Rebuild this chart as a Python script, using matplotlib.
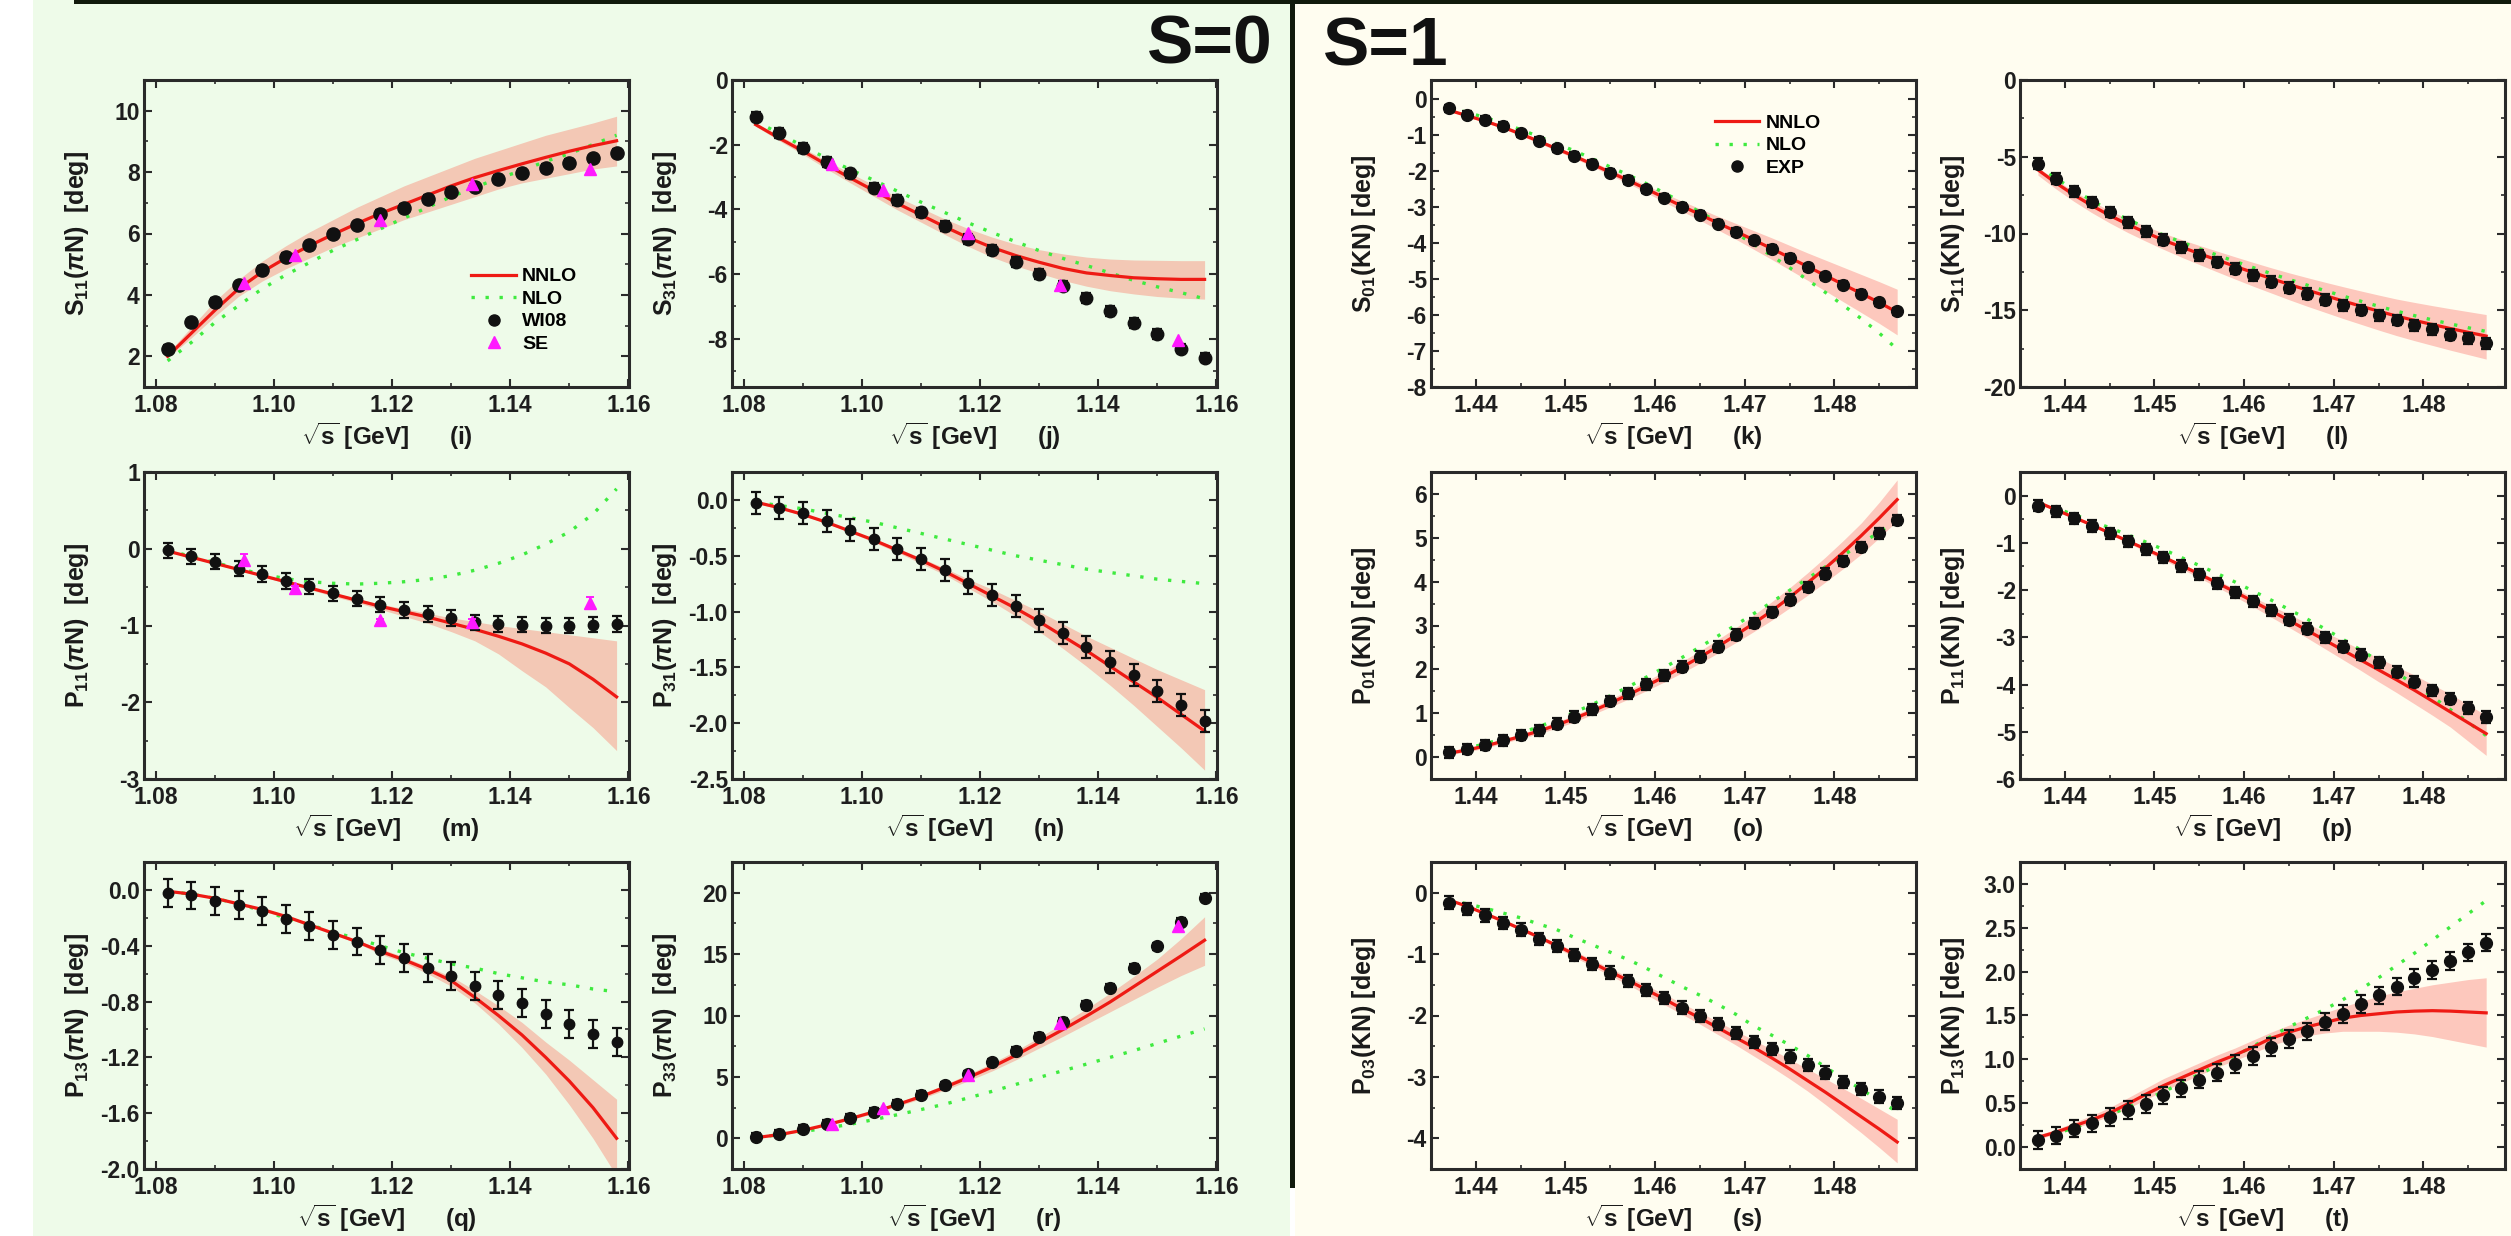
import matplotlib.pyplot as plt
from matplotlib.patches import Rectangle
from matplotlib.lines import Line2D
from matplotlib.ticker import MultipleLocator, FormatStrFormatter

plt.rcParams['font.family'] = ['Liberation Sans', 'DejaVu Sans']
plt.rcParams['font.weight'] = 'bold'
plt.rcParams['axes.labelweight'] = 'bold'
plt.rcParams['mathtext.fontset'] = 'custom'
plt.rcParams['mathtext.rm'] = 'Liberation Sans:bold'
plt.rcParams['mathtext.it'] = 'Liberation Sans:italic:bold'
plt.rcParams['mathtext.bf'] = 'Liberation Sans:bold'
plt.rcParams['mathtext.sf'] = 'Liberation Sans:bold'

# ---------------- data ----------------
x_pi = [1.082, 1.086, 1.090, 1.094, 1.098, 1.102, 1.106, 1.110, 1.114, 1.118,
        1.122, 1.126, 1.130, 1.134, 1.138, 1.142, 1.146, 1.150, 1.154, 1.158]
x_kn = [1.437, 1.439, 1.441, 1.443, 1.445, 1.447, 1.449, 1.451, 1.453, 1.455,
        1.457, 1.459, 1.461, 1.463, 1.465, 1.467, 1.469, 1.471, 1.473, 1.475,
        1.477, 1.479, 1.481, 1.483, 1.485, 1.487]
x_se = [1.095, 1.1035, 1.118, 1.1335, 1.1535]

# (i) S11 piN
s11pi_exp = [2.24, 3.11, 3.77, 4.31, 4.81, 5.24, 5.61, 5.97, 6.27, 6.63, 6.84, 7.12, 7.36, 7.53, 7.77, 7.97, 8.13, 8.31, 8.45, 8.62]
s11pi_se = [4.40, 5.29, 6.43, 7.61, 8.10]
s11pi_nnlo = [2.0, 2.75, 3.5, 4.2, 4.75, 5.2, 5.6, 5.97, 6.32, 6.65, 6.95, 7.25, 7.55, 7.82, 8.05, 8.27, 8.48, 8.68, 8.86, 9.02]
s11pi_hi = [2.1, 2.95, 3.8, 4.5, 5.1, 5.6, 6.05, 6.45, 6.85, 7.2, 7.55, 7.85, 8.15, 8.45, 8.7, 8.95, 9.2, 9.4, 9.6, 9.82]
s11pi_lo = [1.95, 2.6, 3.3, 3.95, 4.45, 4.85, 5.2, 5.55, 5.85, 6.15, 6.45, 6.7, 6.95, 7.2, 7.45, 7.65, 7.8, 7.95, 8.1, 8.2]
s11pi_nlo = [1.85, 2.45, 3.1, 3.65, 4.2, 4.65, 5.05, 5.45, 5.8, 6.15, 6.5, 6.85, 7.2, 7.5, 7.8, 8.05, 8.35, 8.6, 8.9, 9.2]

# (j) S31 piN
s31pi_exp = [-1.13, -1.64, -2.10, -2.54, -2.89, -3.33, -3.72, -4.10, -4.51, -4.92, -5.25, -5.64, -6.00, -6.36, -6.75, -7.15, -7.51, -7.85, -8.31, -8.59]
s31pi_se = [-2.59, -3.41, -4.75, -6.34, -8.05]
s31pi_nnlo = [-1.38, -1.8, -2.2, -2.62, -3.03, -3.42, -3.82, -4.18, -4.54, -4.88, -5.18, -5.43, -5.64, -5.83, -5.97, -6.05, -6.12, -6.15, -6.17, -6.17]
s31pi_hi = [-1.33, -1.72, -2.1, -2.5, -2.88, -3.25, -3.62, -3.96, -4.3, -4.6, -4.86, -5.08, -5.25, -5.38, -5.48, -5.54, -5.57, -5.58, -5.59, -5.59]
s31pi_lo = [-1.43, -1.88, -2.3, -2.75, -3.18, -3.6, -4.02, -4.4, -4.78, -5.15, -5.48, -5.75, -5.98, -6.2, -6.38, -6.52, -6.62, -6.7, -6.75, -6.78]
s31pi_nlo = [-1.28, -1.65, -2.05, -2.42, -2.77, -3.1, -3.44, -3.78, -4.1, -4.42, -4.72, -5.0, -5.28, -5.52, -5.74, -5.97, -6.2, -6.4, -6.58, -6.77]

# (k) S01 KN
s01kn_exp = [-0.25, -0.42, -0.57, -0.74, -0.94, -1.15, -1.36, -1.57, -1.79, -2.04, -2.24, -2.5, -2.73, -2.98, -3.21, -3.46, -3.69, -3.92, -4.16, -4.41, -4.67, -4.92, -5.15, -5.40, -5.64, -5.89]
s01kn_nnlo = [-0.3, -0.45, -0.6, -0.77, -0.96, -1.16, -1.37, -1.58, -1.8, -2.03, -2.25, -2.49, -2.73, -2.97, -3.2, -3.44, -3.67, -3.91, -4.15, -4.4, -4.65, -4.9, -5.15, -5.4, -5.65, -5.92]
s01kn_hi = [-0.27, -0.42, -0.56, -0.73, -0.91, -1.11, -1.31, -1.52, -1.73, -1.95, -2.16, -2.39, -2.61, -2.83, -3.04, -3.25, -3.45, -3.65, -3.85, -4.06, -4.27, -4.47, -4.67, -4.87, -5.07, -5.28]
s01kn_lo = [-0.33, -0.48, -0.64, -0.81, -1.01, -1.21, -1.43, -1.64, -1.87, -2.11, -2.34, -2.59, -2.85, -3.11, -3.36, -3.63, -3.89, -4.17, -4.45, -4.74, -5.03, -5.33, -5.63, -5.93, -6.23, -6.55]
s01kn_nlo = [-0.22, -0.36, -0.5, -0.66, -0.84, -1.03, -1.23, -1.43, -1.65, -1.88, -2.1, -2.34, -2.6, -2.86, -3.13, -3.42, -3.72, -4.03, -4.35, -4.68, -5.02, -5.37, -5.73, -6.1, -6.5, -6.95]

# (l) S11 KN
s11kn_exp = [-5.46, -6.44, -7.26, -7.95, -8.6, -9.27, -9.86, -10.4, -10.9, -11.42, -11.85, -12.29, -12.72, -13.15, -13.54, -13.91, -14.3, -14.67, -14.99, -15.32, -15.64, -15.97, -16.25, -16.58, -16.84, -17.16]
s11kn_nnlo = [-5.85, -6.7, -7.48, -8.18, -8.82, -9.4, -9.93, -10.43, -10.88, -11.31, -11.73, -12.14, -12.54, -12.93, -13.31, -13.68, -14.04, -14.39, -14.73, -15.06, -15.38, -15.66, -15.93, -16.19, -16.44, -16.68]
s11kn_hi = [-5.7, -6.51, -7.25, -7.9, -8.5, -9.04, -9.52, -9.98, -10.39, -10.78, -11.15, -11.52, -11.88, -12.23, -12.56, -12.87, -13.17, -13.46, -13.74, -14.01, -14.27, -14.49, -14.7, -14.9, -15.09, -15.28]
s11kn_lo = [-6.2, -7.09, -7.9, -8.64, -9.31, -9.93, -10.49, -11.03, -11.54, -12.02, -12.5, -12.97, -13.43, -13.87, -14.31, -14.73, -15.13, -15.53, -15.91, -16.29, -16.65, -16.98, -17.29, -17.6, -17.89, -18.18]
s11kn_nlo = [-5.6, -6.4, -7.15, -7.85, -8.5, -9.08, -9.6, -10.1, -10.56, -10.99, -11.41, -11.82, -12.22, -12.61, -12.99, -13.36, -13.72, -14.07, -14.41, -14.74, -15.06, -15.35, -15.63, -15.89, -16.14, -16.38]

# (m) P11 piN
p11pi_exp = [-0.02, -0.10, -0.17, -0.26, -0.33, -0.42, -0.49, -0.58, -0.65, -0.73, -0.80, -0.85, -0.90, -0.96, -0.98, -0.99, -1.00, -1.00, -0.99, -0.98]
p11pi_se = [-0.15, -0.51, -0.93, -0.96, -0.71]
p11pi_se_err = [0.08, 0.02, 0.02, 0.05, 0.08]
p11pi_nnlo = [-0.03, -0.11, -0.19, -0.27, -0.35, -0.43, -0.51, -0.59, -0.67, -0.75, -0.82, -0.89, -0.97, -1.05, -1.14, -1.24, -1.36, -1.5, -1.7, -1.93]
p11pi_hi = [-0.02, -0.1, -0.18, -0.26, -0.34, -0.42, -0.5, -0.57, -0.65, -0.72, -0.78, -0.84, -0.9, -0.95, -1.0, -1.04, -1.08, -1.12, -1.16, -1.2]
p11pi_lo = [-0.04, -0.12, -0.2, -0.28, -0.36, -0.45, -0.53, -0.62, -0.7, -0.79, -0.88, -0.97, -1.08, -1.2, -1.37, -1.59, -1.8, -2.07, -2.33, -2.63]
p11pi_nlo = [-0.02, -0.1, -0.18, -0.26, -0.33, -0.39, -0.43, -0.45, -0.46, -0.45, -0.43, -0.4, -0.35, -0.28, -0.19, -0.08, 0.06, 0.22, 0.45, 0.78]

# (n) P31 piN
p31pi_exp = [-0.03, -0.07, -0.12, -0.19, -0.27, -0.35, -0.44, -0.53, -0.63, -0.74, -0.85, -0.95, -1.08, -1.19, -1.32, -1.45, -1.57, -1.71, -1.84, -1.98]
p31pi_nnlo = [-0.02, -0.07, -0.13, -0.2, -0.28, -0.36, -0.45, -0.54, -0.64, -0.75, -0.86, -0.97, -1.09, -1.22, -1.35, -1.49, -1.63, -1.77, -1.92, -2.07]
p31pi_hi = [-0.01, -0.06, -0.12, -0.19, -0.27, -0.35, -0.43, -0.52, -0.61, -0.71, -0.8, -0.9, -1.0, -1.11, -1.22, -1.32, -1.42, -1.52, -1.61, -1.7]
p31pi_lo = [-0.03, -0.08, -0.14, -0.21, -0.29, -0.38, -0.47, -0.57, -0.67, -0.79, -0.91, -1.04, -1.18, -1.33, -1.49, -1.66, -1.84, -2.03, -2.22, -2.42]
p31pi_nlo = [-0.02, -0.05, -0.08, -0.12, -0.16, -0.2, -0.25, -0.3, -0.35, -0.4, -0.45, -0.5, -0.54, -0.58, -0.62, -0.65, -0.68, -0.71, -0.73, -0.75]

# (o) P01 KN
p01kn_exp = [0.11, 0.18, 0.28, 0.38, 0.5, 0.61, 0.76, 0.92, 1.09, 1.28, 1.45, 1.66, 1.86, 2.06, 2.29, 2.52, 2.79, 3.06, 3.31, 3.59, 3.88, 4.18, 4.47, 4.79, 5.1, 5.41]
p01kn_nnlo = [0.09, 0.16, 0.25, 0.36, 0.47, 0.59, 0.73, 0.88, 1.05, 1.23, 1.42, 1.62, 1.83, 2.05, 2.28, 2.52, 2.78, 3.05, 3.33, 3.64, 3.97, 4.31, 4.67, 5.05, 5.45, 5.87]
p01kn_hi = [0.13, 0.21, 0.3, 0.41, 0.53, 0.66, 0.8, 0.96, 1.13, 1.32, 1.52, 1.73, 1.95, 2.18, 2.42, 2.68, 2.95, 3.24, 3.54, 3.86, 4.2, 4.56, 4.94, 5.34, 5.81, 6.32]
p01kn_lo = [0.05, 0.12, 0.2, 0.31, 0.42, 0.53, 0.66, 0.8, 0.97, 1.14, 1.32, 1.51, 1.71, 1.92, 2.14, 2.37, 2.61, 2.86, 3.12, 3.4, 3.69, 3.99, 4.3, 4.63, 5.0, 5.39]
p01kn_nlo = [0.12, 0.2, 0.3, 0.42, 0.55, 0.69, 0.85, 1.02, 1.2, 1.4, 1.6, 1.82, 2.04, 2.27, 2.51, 2.76, 3.01, 3.27, 3.53, 3.8, 4.07, 4.34, 4.6, 4.87, 5.13, 5.42]

# (p) P11 KN
p11kn_exp = [-0.21, -0.33, -0.48, -0.64, -0.8, -0.97, -1.14, -1.31, -1.49, -1.67, -1.86, -2.05, -2.24, -2.43, -2.63, -2.82, -3.0, -3.2, -3.37, -3.53, -3.73, -3.94, -4.12, -4.3, -4.5, -4.69]
p11kn_nnlo = [-0.14, -0.3, -0.46, -0.62, -0.79, -0.96, -1.13, -1.3, -1.48, -1.66, -1.85, -2.04, -2.24, -2.44, -2.64, -2.85, -3.06, -3.27, -3.48, -3.69, -3.9, -4.12, -4.35, -4.58, -4.81, -5.04]
p11kn_hi = [-0.12, -0.28, -0.44, -0.6, -0.76, -0.93, -1.1, -1.27, -1.44, -1.61, -1.79, -1.97, -2.15, -2.33, -2.51, -2.7, -2.89, -3.07, -3.26, -3.44, -3.62, -3.8, -4.0, -4.2, -4.43, -4.65]
p11kn_lo = [-0.16, -0.32, -0.48, -0.65, -0.82, -1.0, -1.18, -1.36, -1.55, -1.74, -1.94, -2.14, -2.35, -2.57, -2.79, -3.01, -3.24, -3.47, -3.7, -3.94, -4.17, -4.41, -4.65, -4.9, -5.2, -5.5]
p11kn_nlo = [-0.15, -0.27, -0.4, -0.54, -0.68, -0.83, -0.98, -1.14, -1.31, -1.48, -1.65, -1.83, -2.02, -2.21, -2.41, -2.61, -2.82, -3.04, -3.27, -3.5, -3.75, -4.0, -4.26, -4.53, -4.8, -5.08]

# (q) P13 piN
p13pi_exp = [-0.02, -0.04, -0.08, -0.11, -0.15, -0.21, -0.26, -0.32, -0.37, -0.43, -0.49, -0.56, -0.62, -0.69, -0.75, -0.81, -0.89, -0.96, -1.03, -1.09]
p13pi_nnlo = [-0.01, -0.03, -0.06, -0.1, -0.14, -0.19, -0.25, -0.31, -0.37, -0.44, -0.5, -0.57, -0.65, -0.77, -0.9, -1.04, -1.2, -1.37, -1.56, -1.78]
p13pi_hi = [-0.005, -0.025, -0.055, -0.09, -0.13, -0.18, -0.24, -0.3, -0.36, -0.42, -0.48, -0.55, -0.62, -0.72, -0.83, -0.95, -1.09, -1.22, -1.36, -1.5]
p13pi_lo = [-0.015, -0.035, -0.065, -0.11, -0.15, -0.2, -0.26, -0.32, -0.38, -0.46, -0.52, -0.6, -0.69, -0.81, -0.96, -1.13, -1.32, -1.54, -1.78, -2.05]
p13pi_nlo = [-0.01, -0.03, -0.06, -0.1, -0.15, -0.2, -0.25, -0.3, -0.35, -0.4, -0.45, -0.49, -0.53, -0.56, -0.6, -0.63, -0.66, -0.68, -0.71, -0.73]

# (r) P33 piN
p33pi_exp = [0.14, 0.38, 0.79, 1.2, 1.69, 2.18, 2.83, 3.54, 4.31, 5.2, 6.19, 7.14, 8.28, 9.51, 10.87, 12.26, 13.87, 15.64, 17.63, 19.59]
p33pi_se = [1.2, 2.45, 5.15, 9.37, 17.27]
p33pi_nnlo = [0.05, 0.3, 0.65, 1.1, 1.6, 2.15, 2.75, 3.4, 4.15, 4.95, 5.8, 6.75, 7.8, 8.85, 9.95, 11.1, 12.35, 13.6, 14.85, 16.13]
p33pi_hi = [0.1, 0.36, 0.72, 1.18, 1.7, 2.27, 2.9, 3.6, 4.38, 5.22, 6.12, 7.12, 8.22, 9.35, 10.55, 11.82, 13.18, 14.6, 16.25, 18.04]
p33pi_lo = [0.0, 0.24, 0.58, 1.02, 1.5, 2.03, 2.6, 3.22, 3.92, 4.68, 5.48, 6.38, 7.35, 8.3, 9.3, 10.3, 11.3, 12.3, 13.25, 14.09]
p33pi_nlo = [0.05, 0.3, 0.55, 0.83, 1.14, 1.52, 1.92, 2.34, 2.78, 3.29, 3.82, 4.38, 4.96, 5.5, 6.04, 6.59, 7.14, 7.73, 8.32, 8.91]

# (s) P03 KN
p03kn_exp = [-0.16, -0.26, -0.37, -0.49, -0.6, -0.75, -0.87, -1.01, -1.16, -1.3, -1.44, -1.58, -1.72, -1.87, -2.01, -2.14, -2.28, -2.43, -2.54, -2.67, -2.81, -2.93, -3.08, -3.2, -3.32, -3.43]
p03kn_nnlo = [-0.12, -0.22, -0.34, -0.46, -0.59, -0.72, -0.86, -1.0, -1.14, -1.29, -1.43, -1.58, -1.73, -1.89, -2.04, -2.2, -2.36, -2.52, -2.69, -2.87, -3.06, -3.25, -3.45, -3.65, -3.85, -4.06]
p03kn_hi = [-0.11, -0.21, -0.32, -0.44, -0.56, -0.69, -0.82, -0.95, -1.09, -1.23, -1.37, -1.51, -1.65, -1.8, -1.95, -2.1, -2.25, -2.4, -2.55, -2.71, -2.87, -3.03, -3.19, -3.35, -3.52, -3.69]
p03kn_lo = [-0.13, -0.23, -0.36, -0.48, -0.62, -0.75, -0.9, -1.05, -1.2, -1.35, -1.5, -1.66, -1.82, -1.98, -2.14, -2.31, -2.48, -2.66, -2.84, -3.03, -3.23, -3.45, -3.68, -3.91, -4.15, -4.4]
p03kn_nlo = [-0.12, -0.18, -0.25, -0.33, -0.41, -0.51, -0.6, -0.73, -0.85, -0.97, -1.09, -1.23, -1.38, -1.53, -1.67, -1.82, -1.98, -2.17, -2.32, -2.48, -2.65, -2.84, -3.03, -3.2, -3.39, -3.57]

# (t) P13 KN
p13kn_exp = [0.08, 0.13, 0.21, 0.27, 0.34, 0.42, 0.49, 0.59, 0.67, 0.77, 0.85, 0.95, 1.04, 1.14, 1.23, 1.32, 1.43, 1.52, 1.63, 1.73, 1.83, 1.93, 2.02, 2.12, 2.22, 2.33]
p13kn_nnlo = [0.11, 0.17, 0.24, 0.31, 0.39, 0.49, 0.6, 0.7, 0.79, 0.88, 0.97, 1.05, 1.14, 1.24, 1.31, 1.37, 1.42, 1.47, 1.5, 1.52, 1.54, 1.55, 1.555, 1.55, 1.54, 1.53]
p13kn_hi = [0.14, 0.2, 0.28, 0.36, 0.45, 0.56, 0.67, 0.78, 0.87, 0.96, 1.05, 1.13, 1.22, 1.31, 1.39, 1.46, 1.53, 1.6, 1.66, 1.72, 1.77, 1.81, 1.85, 1.88, 1.91, 1.93]
p13kn_lo = [0.09, 0.15, 0.21, 0.28, 0.35, 0.44, 0.54, 0.64, 0.73, 0.82, 0.91, 0.99, 1.07, 1.16, 1.22, 1.27, 1.3, 1.32, 1.32, 1.32, 1.31, 1.29, 1.26, 1.22, 1.18, 1.14]
p13kn_nlo = [0.09, 0.15, 0.22, 0.29, 0.37, 0.45, 0.54, 0.63, 0.73, 0.83, 0.93, 1.04, 1.15, 1.26, 1.37, 1.47, 1.57, 1.68, 1.8, 1.93, 2.07, 2.21, 2.36, 2.51, 2.66, 2.81]

# error bar sizes of the data points (deg)
err_s11pi, err_s31pi, err_s01kn, err_s11kn = 0.12, 0.15, 0.1, 0.35
err_p11pi, err_p31pi, err_p01kn, err_p11kn = 0.1, 0.1, 0.12, 0.12
err_p13pi, err_p33pi, err_p03kn, err_p13kn = 0.1, 0.3, 0.1, 0.1

# ---------------- style / layout ----------------
W, H = 2511, 1236
GREEN_BG = '#eefbe9'
CREAM_BG = '#fffdf0'
BAND_PI = '#f3c8b5'
BAND_KN = '#fdc8bd'
RED = '#ee1a14'
NLO_C = '#3fea3f'
INK = '#2a2a2a'

col_left = [144, 732, 1431, 2020]
row_top = [80, 472, 862]
ax_w, ax_h = 485, 307

fig = plt.figure(figsize=(W / 100, H / 100), dpi=100, facecolor='white')

# backgrounds, divider and top bar
fig.add_artist(Rectangle((33 / W, 0), (1290 - 33) / W, 1, transform=fig.transFigure,
                         facecolor=GREEN_BG, edgecolor='none', zorder=-10))
fig.add_artist(Rectangle((1295 / W, 0), 1, 1, transform=fig.transFigure,
                         facecolor=CREAM_BG, edgecolor='none', zorder=-10))
fig.add_artist(Rectangle((1290 / W, 48 / H), 5 / W, 1, transform=fig.transFigure,
                         facecolor='#111a0c', edgecolor='none', zorder=-5))
fig.add_artist(Rectangle((74 / W, 1 - 4 / H), 1, 4 / H, transform=fig.transFigure,
                         facecolor='#111a0c', edgecolor='none', zorder=-5))

fig.text(1147 / W, 1 - 63 / H, 'S=0', fontsize=50, fontweight='bold', color='#111111', va='baseline')
fig.text(1323 / W, 1 - 65 / H, 'S=1', fontsize=50, fontweight='bold', color='#111111', va='baseline')

panels = [
    # row 1
    dict(x=x_pi, exp=s11pi_exp, err=err_s11pi, nnlo=s11pi_nnlo, hi=s11pi_hi, lo=s11pi_lo, nlo=s11pi_nlo,
         se=s11pi_se, ylab=r'S$_{11}$($\pi$N)  [deg]', tag='(i)', ylim=(1, 11), maj=2, mnr=1, fmt='%d', ms=9.5),
    dict(x=x_pi, exp=s31pi_exp, err=err_s31pi, nnlo=s31pi_nnlo, hi=s31pi_hi, lo=s31pi_lo, nlo=s31pi_nlo,
         se=s31pi_se, ylab=r'S$_{31}$($\pi$N)  [deg]', tag='(j)', ylim=(-9.5, 0), maj=2, mnr=1, fmt='%d', ms=9),
    dict(x=x_kn, exp=s01kn_exp, err=err_s01kn, nnlo=s01kn_nnlo, hi=s01kn_hi, lo=s01kn_lo, nlo=s01kn_nlo,
         ylab=r'S$_{01}$(KN) [deg]', tag='(k)', ylim=(-8, 0.54), maj=1, mnr=0.5, fmt='%d', ms=8.5),
    dict(x=x_kn, exp=s11kn_exp, err=err_s11kn, nnlo=s11kn_nnlo, hi=s11kn_hi, lo=s11kn_lo, nlo=s11kn_nlo,
         ylab=r'S$_{11}$(KN) [deg]', tag='(l)', ylim=(-20, 0), maj=5, mnr=2.5, fmt='%d', ms=8.5),
    # row 2
    dict(x=x_pi, exp=p11pi_exp, err=err_p11pi, nnlo=p11pi_nnlo, hi=p11pi_hi, lo=p11pi_lo, nlo=p11pi_nlo,
         se=p11pi_se, se_err=p11pi_se_err, ylab=r'P$_{11}$($\pi$N)  [deg]', tag='(m)', ylim=(-3, 1),
         maj=1, mnr=0.5, fmt='%d', ms=7.5),
    dict(x=x_pi, exp=p31pi_exp, err=err_p31pi, nnlo=p31pi_nnlo, hi=p31pi_hi, lo=p31pi_lo, nlo=p31pi_nlo,
         ylab=r'P$_{31}$($\pi$N)  [deg]', tag='(n)', ylim=(-2.5, 0.25), maj=0.5, mnr=0.25, fmt='%.1f', ms=7.5),
    dict(x=x_kn, exp=p01kn_exp, err=err_p01kn, nnlo=p01kn_nnlo, hi=p01kn_hi, lo=p01kn_lo, nlo=p01kn_nlo,
         ylab=r'P$_{01}$(KN) [deg]', tag='(o)', ylim=(-0.5, 6.5), maj=1, mnr=0.5, fmt='%d', ms=8.5),
    dict(x=x_kn, exp=p11kn_exp, err=err_p11kn, nnlo=p11kn_nnlo, hi=p11kn_hi, lo=p11kn_lo, nlo=p11kn_nlo,
         ylab=r'P$_{11}$(KN) [deg]', tag='(p)', ylim=(-6, 0.5), maj=1, mnr=0.5, fmt='%d', ms=8.5),
    # row 3
    dict(x=x_pi, exp=p13pi_exp, err=err_p13pi, nnlo=p13pi_nnlo, hi=p13pi_hi, lo=p13pi_lo, nlo=p13pi_nlo,
         ylab=r'P$_{13}$($\pi$N)  [deg]', tag='(q)', ylim=(-2.0, 0.2), maj=0.4, mnr=0.2, fmt='%.1f', ms=7.5),
    dict(x=x_pi, exp=p33pi_exp, err=err_p33pi, nnlo=p33pi_nnlo, hi=p33pi_hi, lo=p33pi_lo, nlo=p33pi_nlo,
         se=p33pi_se, ylab=r'P$_{33}$($\pi$N)  [deg]', tag='(r)', ylim=(-2.5, 22.5), maj=5, mnr=2.5, fmt='%d', ms=8.5),
    dict(x=x_kn, exp=p03kn_exp, err=err_p03kn, nnlo=p03kn_nnlo, hi=p03kn_hi, lo=p03kn_lo, nlo=p03kn_nlo,
         ylab=r'P$_{03}$(KN) [deg]', tag='(s)', ylim=(-4.5, 0.5), maj=1, mnr=0.5, fmt='%d', ms=8.5),
    dict(x=x_kn, exp=p13kn_exp, err=err_p13kn, nnlo=p13kn_nnlo, hi=p13kn_hi, lo=p13kn_lo, nlo=p13kn_nlo,
         ylab=r'P$_{13}$(KN) [deg]', tag='(t)', ylim=(-0.25, 3.25), maj=0.5, mnr=0.25, fmt='%.1f', ms=8.5),
]

axes = []
for k, p in enumerate(panels):
    r, c = divmod(k, 4)
    left = col_left[c] / W
    bottom = 1 - (row_top[r] + ax_h) / H
    ax = fig.add_axes([left, bottom, ax_w / W, ax_h / H])
    ax.set_facecolor('none')
    is_pi = p['x'] is x_pi

    ax.fill_between(p['x'], p['lo'], p['hi'], color=BAND_PI if is_pi else BAND_KN, lw=0, zorder=1)
    ax.plot(p['x'], p['nlo'], color=NLO_C, lw=2.4, ls=(0, (1, 3.2)), zorder=2)
    ax.plot(p['x'], p['nnlo'], color=RED, lw=2.3, zorder=3)
    ax.errorbar(p['x'], p['exp'], yerr=p['err'], fmt='o', color='#111111', ms=p['ms'],
                capsize=3.5, elinewidth=1.6, capthick=1.6, zorder=4)
    if 'se' in p:
        ax.errorbar(x_se, p['se'], yerr=p.get('se_err', None), fmt='^', color='#ff1aff',
                    ms=8.5, capsize=3, elinewidth=1.4, capthick=1.4, zorder=5)

    if is_pi:
        ax.set_xlim(1.078, 1.1601)
        ax.xaxis.set_major_locator(MultipleLocator(0.02))
        ax.xaxis.set_minor_locator(MultipleLocator(0.01))
    else:
        ax.set_xlim(1.435, 1.4891)
        ax.xaxis.set_major_locator(MultipleLocator(0.01))
        ax.xaxis.set_minor_locator(MultipleLocator(0.005))
    ax.xaxis.set_major_formatter(FormatStrFormatter('%.2f'))
    ax.set_ylim(*p['ylim'])
    ax.yaxis.set_major_locator(MultipleLocator(p['maj']))
    ax.yaxis.set_minor_locator(MultipleLocator(p['mnr']))
    ax.yaxis.set_major_formatter(FormatStrFormatter(p['fmt']))

    ax.tick_params(which='both', direction='in', top=True, right=True, color=INK, labelcolor='#1e1e1e')
    ax.tick_params(which='major', length=6, width=1.5, labelsize=16.5)
    ax.tick_params(which='minor', length=3, width=1.2)
    ax.tick_params(axis='x', which='major', pad=5)
    ax.tick_params(axis='y', which='major', pad=3)
    for lab in ax.get_xticklabels() + ax.get_yticklabels():
        lab.set_fontweight('bold')
    for s in ax.spines.values():
        s.set_color(INK)
        s.set_linewidth(2.2)

    ax.set_ylabel(p['ylab'], fontsize=18, color='#1a1a1a')
    ax.yaxis.set_label_coords(-0.11, 0.5)
    ax.set_xlabel(r'$\sqrt{\rm s}$ [GeV]      ' + p['tag'], fontsize=17.5, color='#1a1a1a')
    ax.xaxis.set_label_coords(0.5, -0.108)
    axes.append(ax)

# legends
h_nnlo = Line2D([], [], color=RED, lw=2.3)
h_nlo = Line2D([], [], color=NLO_C, lw=2.4, ls=(0, (1, 3.2)))
h_exp = Line2D([], [], color='#111111', marker='o', ls='none', ms=8)
h_se = Line2D([], [], color='#ff1aff', marker='^', ls='none', ms=8)
axes[0].legend([h_nnlo, h_nlo, h_exp, h_se], ['NNLO', 'NLO', 'WI08', 'SE'], frameon=False,
               loc='upper left', bbox_to_anchor=(0.655, 0.42), fontsize=14, handlelength=2.3,
               handletextpad=0.3, labelspacing=0.25, borderpad=0)
axes[2].legend([h_nnlo, h_nlo, h_exp], ['NNLO', 'NLO', 'EXP'], frameon=False,
               loc='upper left', bbox_to_anchor=(0.565, 0.92), fontsize=14, handlelength=2.3,
               handletextpad=0.3, labelspacing=0.25, borderpad=0)

fig.savefig('out.png', dpi=100, facecolor=fig.get_facecolor())
